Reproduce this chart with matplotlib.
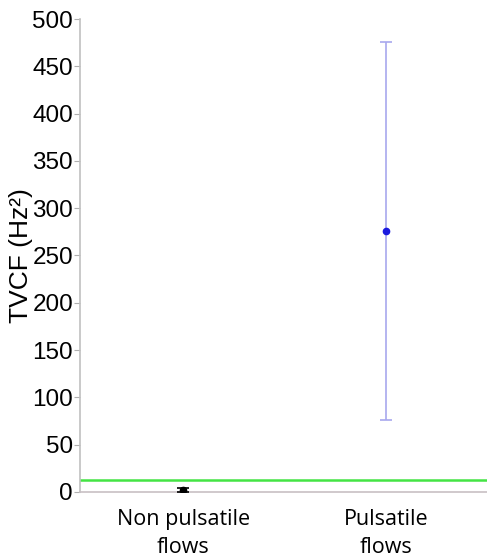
import numpy as np
import matplotlib
matplotlib.use("Agg")
import matplotlib.pyplot as plt

# values
categories = ["Non pulsatile\nflows", "Pulsatile\nflows"]
means = [2.5, 276]
errors = [2.0, 200]
point_colors = ["black", "#1a1adf"]
bar_colors = ["black", "#a8a8ee"]
threshold = 12.5
y_ticks = [0, 50, 100, 150, 200, 250, 300, 350, 400, 450, 500]

fig = plt.figure(figsize=(4.87, 5.58), dpi=100)
ax = fig.add_axes([80 / 487, 66 / 558, 407 / 487, 473 / 558])

x = np.arange(1, len(categories) + 1)
for xi, m, e, pc, bc in zip(x, means, errors, point_colors, bar_colors):
    ax.errorbar(xi, m, yerr=e, fmt="o", color=pc, ecolor=bc, markersize=4.5,
                elinewidth=1.2, capsize=4.5, capthick=1.2, zorder=3)

ax.axhline(threshold, color="#44e444", linewidth=1.8, zorder=2)

ax.set_xlim(0.49, 2.5)
ax.set_ylim(0, 500)
ax.set_yticks(y_ticks)
ax.set_yticklabels([str(t) for t in y_ticks], family="Liberation Sans", fontsize=17.5)
ax.set_xticks(x)
ax.set_xticklabels(categories, family="Open Sans", fontsize=15.5, linespacing=1.45)
ax.tick_params(axis="x", length=0, pad=12)
ax.tick_params(axis="y", length=4, color="#b0b0b0", pad=1)

for side in ["top", "right"]:
    ax.spines[side].set_visible(False)
ax.spines["left"].set_color("#c0c0c0")
ax.spines["bottom"].set_color("#c8c0c4")
ax.spines["left"].set_linewidth(1.2)
ax.spines["bottom"].set_linewidth(1.2)

ax.set_ylabel("TVCF (Hz²)", family="Liberation Sans", fontsize=19)
ax.yaxis.set_label_coords(-0.115, 0.5)

fig.savefig("out.png", dpi=100)
